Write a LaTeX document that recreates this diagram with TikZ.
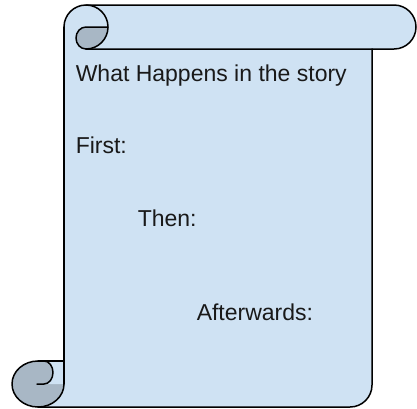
\documentclass[tikz,border=0pt]{standalone}
\usepackage{fontspec}
\setmainfont{Liberation Sans}
\definecolor{scrollblue}{HTML}{CFE2F3}
\definecolor{scrollgray}{HTML}{A8B7C5}
\begin{document}
\begin{tikzpicture}[x=1pt,y=-1pt, line width=1.5pt, line join=round, line cap=round,
  lbl/.style={anchor=base west, inner sep=0pt, font=\fontsize{23}{27}\selectfont, text=black!90}]
\useasboundingbox (0,0) rectangle (417,408);
% ---- fills ----
% body
\fill[scrollblue] (64,27) -- (64,384) arc[start angle=0, end angle=90, x radius=26, y radius=23]
  -- (350,407) arc[start angle=90, end angle=0, radius=22] -- (372,27) -- cycle;
% top bar
\fill[scrollblue] (86,5) -- (394,5) arc[start angle=-90, end angle=90, radius=22]
  -- (86,49) arc[start angle=90, end angle=270, radius=22] -- cycle;
% bottom curl (gray roll)
\fill[scrollgray] (38,384) ellipse[x radius=26, y radius=23];
% bottom flap (blue back of the roll)
\fill[scrollblue] (44,361) -- (64,361) -- (64,384) -- (44,384)
  arc[start angle=90, end angle=-90, x radius=9, y radius=11.5] -- cycle;
% top curl (gray)
\fill[scrollgray] (108,27) -- (86,27) arc[start angle=270, end angle=90, x radius=10, y radius=11]
  arc[start angle=90, end angle=0, radius=22] -- cycle;
% ---- outlines ----
% body left edge, bottom, right
\draw (64,27) -- (64,384);
\draw (38,407) -- (350,407) arc[start angle=90, end angle=0, radius=22] -- (372,49);
% top bar outline
\draw (64,27) arc[start angle=180, end angle=270, radius=22] -- (394,5)
  arc[start angle=-90, end angle=90, radius=22] -- (86,49);
% top big circle right half
\draw (86,5) arc[start angle=270, end angle=450, radius=22];
% top gray curl outline
\draw (108,27) -- (86,27) arc[start angle=270, end angle=90, x radius=10, y radius=11];
% bottom roll outline
\draw (38,361) arc[start angle=270, end angle=0, x radius=26, y radius=23];
\draw (38,361) -- (64,361);
\draw (37,384) -- (44,384) arc[start angle=90, end angle=-90, x radius=9, y radius=11.5];
% ---- texts ----
\node[lbl] (title) at (75,81.7) {What Happens in the story};
\node[lbl] (first) at (75,153.3) {First:};
\node[lbl] (then) at (137,226) {Then:};
\node[lbl] (after) at (196,320.7) {Afterwards:};
\end{tikzpicture}
\end{document}
